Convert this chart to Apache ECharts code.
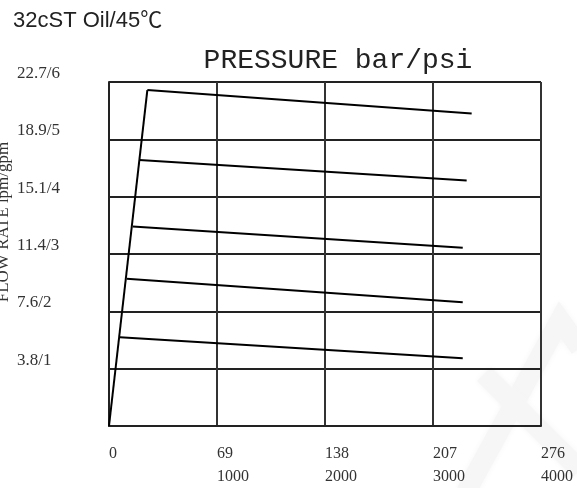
<!DOCTYPE html>
<html>
<head>
<meta charset="utf-8">
<script src="https://cdn.jsdelivr.net/npm/echarts@6/dist/echarts.min.js"></script>
<style>
  html, body { margin: 0; padding: 0; background: #fff; }
  #chart { width: 577px; height: 488px; }
</style>
</head>
<body>
<div id="chart"></div>
<script>
// Pressure axis ticks: bar values and matching psi values
const barTicks = [0, 69, 138, 207, 276];
const psiTicks = ['', '1000', '2000', '3000', '4000'];

// Flow axis ticks in gpm with lpm/gpm labels
const gpmTicks = [0, 1, 2, 3, 4, 5, 6];
const flowLabels = ['', '3.8/1', '7.6/2', '11.4/3', '15.1/4', '18.9/5', '22.7/6'];

// Rising line from the origin (bar, gpm)
const riseLine = [[0, 0], [24.5, 5.86]];

// Flow vs pressure curves for each setting (bar, gpm)
const curve1 = [[7.0, 1.55], [226.0, 1.18]];
const curve2 = [[11.3, 2.57], [226.0, 2.16]];
const curve3 = [[15.1, 3.48], [226.0, 3.11]];
const curve4 = [[19.4, 4.64], [228.5, 4.28]];
const curve5 = [[24.5, 5.86], [231.7, 5.45]];

const lineSeries = (name, data) => ({
  name: name,
  type: 'line',
  data: data,
  symbol: 'none',
  lineStyle: { color: '#000', width: 2 },
  silent: true,
  z: 3
});

const chart = echarts.init(document.getElementById('chart'));
chart.setOption({
  animation: false,
  backgroundColor: '#fff',
  grid: { left: 109, right: 36, top: 82, bottom: 61 },
  graphic: [
    // faint logo mark in the lower right corner
    {
      type: 'polyline', z: -10, silent: true,
      shape: { points: [[466, 492], [560, 320], [580, 348]] },
      style: { stroke: '#f6f6f6', lineWidth: 20, fill: null, shadowBlur: 6, shadowColor: '#f6f6f6' }
    },
    {
      type: 'line', z: -10, silent: true,
      shape: { x1: 484, y1: 374, x2: 580, y2: 470 },
      style: { stroke: '#f6f6f6', lineWidth: 20, shadowBlur: 6, shadowColor: '#f6f6f6' }
    },
    {
      type: 'text', left: 13, top: 10,
      style: { text: '32cST Oil/45℃', font: '22px "Liberation Sans", "Noto Sans CJK SC", sans-serif', fill: '#222' }
    },
    {
      type: 'text', x: 338, y: 61,
      style: { text: 'PRESSURE bar/psi', font: '28px "Liberation Mono", monospace', fill: '#222', align: 'center', verticalAlign: 'middle' }
    },
    {
      type: 'text', x: 4, y: 222, rotation: Math.PI / 2,
      style: { text: 'FLOW RATE lpm/gpm', font: '17px "Liberation Serif", serif', fill: '#333', align: 'center', verticalAlign: 'middle' }
    }
  ],
  xAxis: {
    type: 'value',
    min: 0, max: 276, interval: 69,
    axisLine: { show: true, lineStyle: { color: '#222', width: 2 } },
    axisTick: { show: false },
    splitLine: { show: true, lineStyle: { color: '#333', width: 2 } },
    axisLabel: {
      margin: 16,
      align: 'left',
      lineHeight: 23,
      color: '#333',
      fontFamily: '"Liberation Serif", serif',
      fontSize: 16,
      formatter: function (v) {
        const i = barTicks.indexOf(v);
        const psi = psiTicks[i];
        return psi ? v + '\n' + psi : String(v);
      }
    }
  },
  yAxis: {
    type: 'value',
    min: 0, max: 6, interval: 1,
    axisLine: { show: true, lineStyle: { color: '#222', width: 2 } },
    axisTick: { show: false },
    splitLine: { show: true, lineStyle: { color: '#222', width: 2 } },
    axisLabel: {
      margin: 92,
      align: 'left',
      verticalAlign: 'bottom',
      color: '#333',
      fontFamily: '"Liberation Serif", serif',
      fontSize: 17,
      formatter: function (v) {
        return flowLabels[gpmTicks.indexOf(v)] || '';
      }
    }
  },
  series: [
    lineSeries('rise', riseLine),
    lineSeries('curve1', curve1),
    lineSeries('curve2', curve2),
    lineSeries('curve3', curve3),
    lineSeries('curve4', curve4),
    lineSeries('curve5', curve5)
  ]
});
</script>
</body>
</html>
